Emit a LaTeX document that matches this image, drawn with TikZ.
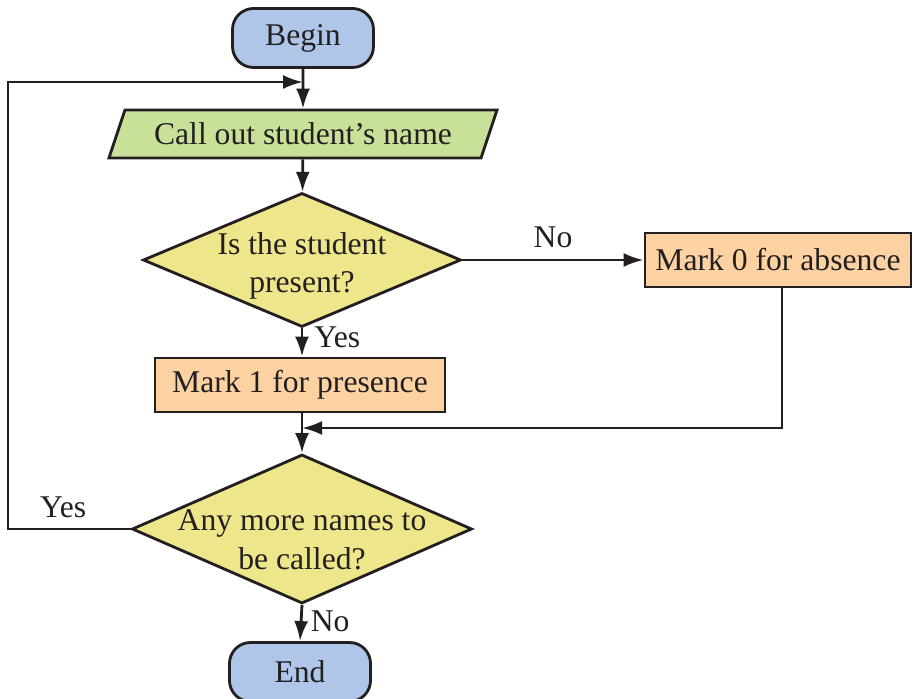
\documentclass[tikz,border=0pt]{standalone}
\usepackage{fontspec}
\setmainfont{Liberation Serif}
\usepackage{xcolor}
\usepackage{tikz}
\usetikzlibrary{arrows.meta,positioning,shapes,shapes.geometric,calc}
\definecolor{lineclr}{RGB}{35,31,32}
\definecolor{termblue}{RGB}{176,198,232}
\definecolor{iogreen}{RGB}{200,224,152}
\definecolor{askyellow}{RGB}{238,230,138}
\definecolor{markorange}{RGB}{252,210,162}
\tikzset{every node/.append style={font=\fontsize{18}{22}\selectfont, text=lineclr}}
\tikzset{
  terminal/.style={draw=lineclr, line width=1.6pt, fill=termblue, rectangle, rounded corners=0.42cm, minimum width=2.82cm, minimum height=1.18cm},
  inout/.style={draw=lineclr, line width=1.6pt, fill=iogreen, trapezium, trapezium left angle=59, trapezium right angle=121, trapezium stretches=true, minimum width=7.78cm, minimum height=0.96cm, inner sep=0pt},
  decision/.style={draw=lineclr, line width=1.6pt, fill=askyellow, diamond, align=center, inner sep=-0.4cm},
  process/.style={draw=lineclr, line width=1.6pt, fill=markorange, rectangle, minimum height=1.08cm},
  flow/.style={draw=lineclr, line width=1.6pt, -{Latex[length=4mm,width=2.8mm]}}
}

\begin{document}
\begin{tikzpicture}
      \useasboundingbox (0,0) rectangle (18.28,13.98);

      \node[terminal] at (6.06,13.22) (begin) {Begin};
      \node[inout] at (6.06,11.30) (callout) {Call out student’s name};
      % the struts push the two lines a little below the middle
      \node[decision, aspect=2.37, minimum width=6.36cm, minimum height=2.68cm] at (6.04,8.78) (present) {\rule{0pt}{0.67cm}Is the student\\present?};
      \node[process, minimum width=5.32cm] at (15.56,8.78) (absent) {Mark 0 for absence};
      \node[process, minimum width=5.8cm] at (6.0,6.28) (markone) {Mark 1 for presence};
      \node[decision, aspect=2.28, minimum width=6.8cm, minimum height=2.98cm] at (6.04,3.40) (more) {\rule{0pt}{0.86cm}Any more names to\\be called?};
      \node[terminal] at (6.0,0.54) (end) {End};

      \coordinate (join1) at (6.06,12.34);
      \coordinate (join2) at (6.04,5.42);
      \coordinate (loopx) at (0.16,0);

      \draw[flow] (begin) -- (callout);
      \draw[flow] (callout) -- (present);
      \draw[flow] (present.east) -- node[above, yshift=0.1cm] {No} (absent.west);
      \draw[flow] (present.south) -- node[right, pos=0.3, xshift=0.1cm] {Yes} (present.south |- markone.north);
      \draw[flow] ([xshift=0.08cm]absent.south) |- (join2);
      \draw[flow] (present.south |- markone.south) -- (more.north);
      \draw[flow] (more.south) -- node[right, pos=0.45, xshift=0.05cm] {No} (end.north);
      \draw[flow] (more.west) -- node[above, pos=0.55, yshift=0.08cm] {Yes} (more.west -| loopx) |- (join1);
    \end{tikzpicture}
\end{document}
